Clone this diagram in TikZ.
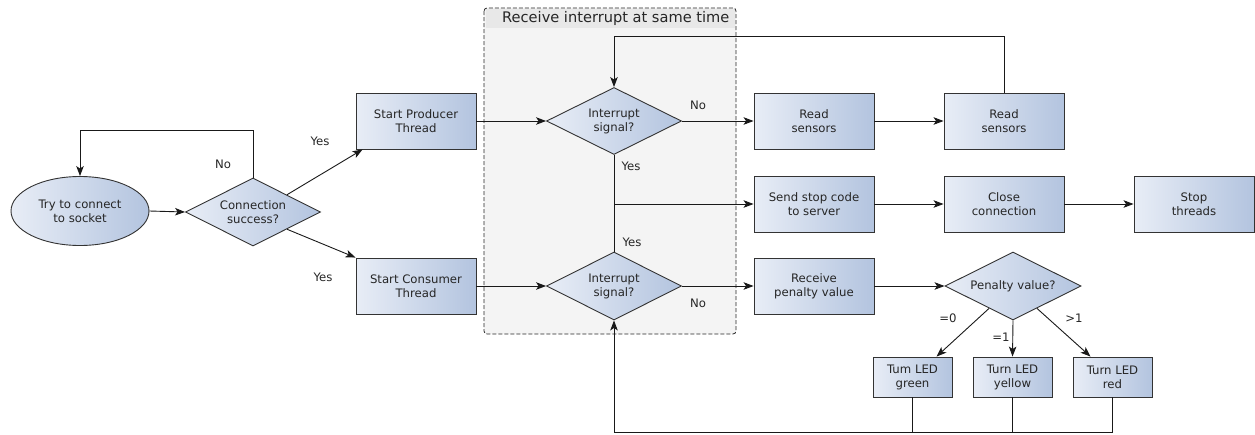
\documentclass[tikz,border=0pt]{standalone}
\usepackage{fontspec}
\setmainfont{DejaVu Sans}
\usetikzlibrary{shapes.geometric,arrows.meta,calc}

\definecolor{boxleft}{HTML}{E8EDF6}
\definecolor{boxright}{HTML}{B3C4DF}
\definecolor{edge}{HTML}{333333}
\definecolor{groupfill}{HTML}{F4F4F4}
\definecolor{groupband}{HTML}{E8E8E8}

\tikzset{
  every node/.style={font=\fontsize{11.7}{14}\selectfont, text=black!85},
  procbox/.style={draw=edge, line width=0.9pt, left color=boxleft, right color=boxright,
    minimum width=120pt, minimum height=56pt, inner sep=0pt, align=center},
  ledbox/.style={procbox, minimum width=79pt, minimum height=40pt},
  decision/.style={diamond, shape aspect=2, draw=edge, line width=0.9pt,
    left color=boxleft, right color=boxright,
    minimum width=135pt, minimum height=67pt, inner sep=0pt, align=center},
  startshape/.style={ellipse, draw=edge, line width=0.9pt, left color=boxleft, right color=boxright,
    minimum width=138pt, minimum height=69pt, inner sep=0pt, align=center},
  flow/.style={draw=black!90, line width=0.9pt},
  arrow/.style={flow, -{Stealth[length=10pt,width=7.5pt,inset=2.5pt]}},
  lbl/.style={inner sep=0pt}
}

\begin{document}
\begin{tikzpicture}[x=1pt, y=-1pt]
\useasboundingbox (0,0) rectangle (1255,434);

% group frame for the two interrupt checks
\fill[groupfill, rounded corners=3pt] (484,8) rectangle (736,334);
\fill[groupband] (486,9) rectangle (735,28);
\draw[black!85, line width=0.8pt, dash pattern=on 4pt off 2pt, rounded corners=3pt]
  (484,8) rectangle (736,334);
\node[lbl, anchor=west, font=\fontsize{14.6}{17}\selectfont] (grouptitle) at (502,18)
  {Receive interrupt at same time};

% nodes
\node[startshape] (ell) at (80,211) {Try to connect\\to socket};
\node[decision, minimum width=135pt, minimum height=68pt] (cs) at (253,212) {Connection\\success?};
\node[procbox] (prod) at (416,121) {Start Producer\\Thread};
\node[procbox] (cons) at (416,286) {Start Consumer\\Thread};
\node[decision] (int1) at (614,121) {Interrupt\\signal?};
\node[decision, minimum height=68pt] (int2) at (614,286) {Interrupt\\signal?};
\node[procbox] (read1) at (814,121) {Read\\sensors};
\node[procbox] (read2) at (1004,121) {Read\\sensors};
\node[procbox] (stop) at (814,204) {Send stop code\\to server};
\node[procbox] (close) at (1004,204) {Close\\connection};
\node[procbox] (threads) at (1194,204) {Stop\\threads};
\node[procbox] (recv) at (814,286) {Receive\\penalty value};
\node[decision, minimum width=136pt, minimum height=68pt] (pen) at (1013,286) {Penalty value?};
\node[ledbox] (green) at (912.5,377) {Tum LED\\green};
\node[ledbox] (yellow) at (1012.5,377) {Turn LED\\yellow};
\node[ledbox] (red) at (1112.5,377) {Turn LED\\red};

% helper coordinates for the loops
\coordinate (retry) at (253,130);
\coordinate (toploop) at (1004,36);
\coordinate (junction) at (614,204);
\coordinate (bottomloop) at (614,432.5);

% connection attempt
\draw[arrow] (ell.east) -- (cs.west);
\draw[arrow] (cs.north) -- (retry) -| (ell.north);
\draw[arrow] (cs.north east) -- ($(prod.south west)+(7,0)$);
\draw[arrow] (cs.south east) -- (cons.north west);

% threads into the interrupt checks
\draw[arrow] (prod.east) -- (int1.west);
\draw[arrow] (cons.east) -- (int2.west);
\draw[flow] (int1.south) -- (int2.north);
\draw[arrow] (junction) -- (stop.west);

% producer branch
\draw[arrow] (int1.east) -- (read1.west);
\draw[arrow] (read1.east) -- (read2.west);
\draw[arrow] (read2.north) -- (toploop) -| (int1.north);

% shutdown branch
\draw[arrow] (stop.east) -- (close.west);
\draw[arrow] (close.east) -- (threads.west);

% consumer branch
\draw[arrow] (int2.east) -- (recv.west);
\draw[arrow] (recv.east) -- (pen.west);
\draw[arrow] ($(pen.south)!0.35!(pen.west)$) -- ($(green.north)+(24,0)$);
\draw[arrow] (pen.south) -- (yellow.north);
\draw[arrow] ($(pen.south)!0.35!(pen.east)$) -- ($(red.north)+(-22,0)$);
\draw[flow] (green.south) -- (green.south |- bottomloop);
\draw[flow] (yellow.south) -- (yellow.south |- bottomloop);
\draw[arrow] (red.south) |- (bottomloop) -- (int2.south);

% branch labels
\node[lbl] (lno1) at (223,164) {No};
\node[lbl] (lyes1) at (320,141) {Yes};
\node[lbl] (lyes2) at (323,277) {Yes};
\node[lbl] (lno2) at (698,105) {No};
\node[lbl] (lyes3) at (631,166) {Yes};
\node[lbl] (lyes4) at (632,242) {Yes};
\node[lbl] (lno3) at (698,303) {No};
\node[lbl] (leq0) at (948,318) {=0};
\node[lbl] (leq1) at (1001,337) {=1};
\node[lbl] (lgt1) at (1074,318) {>1};
\end{tikzpicture}
\end{document}
